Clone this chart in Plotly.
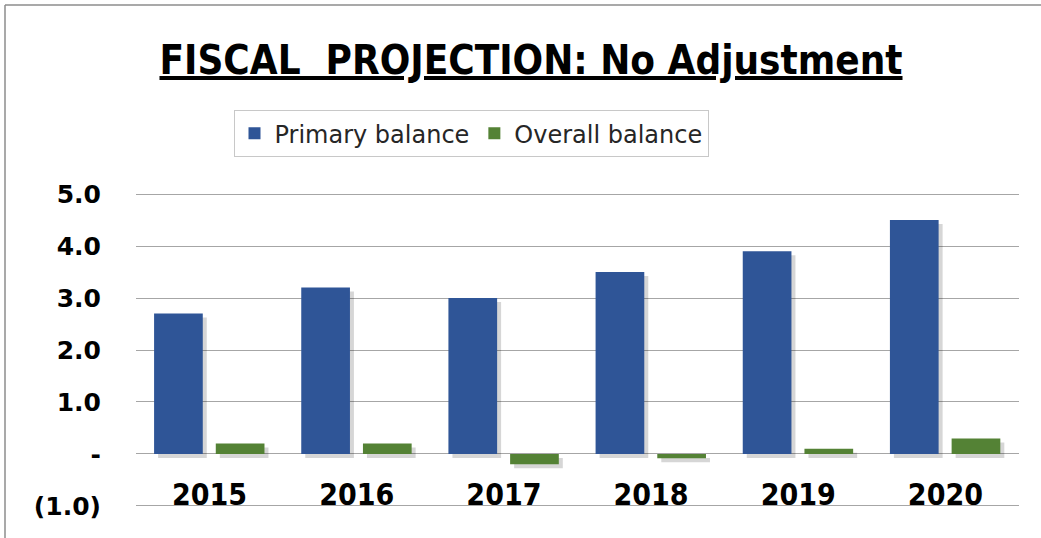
import plotly.graph_objects as go

years = ["2015", "2016", "2017", "2018", "2019", "2020"]
primary_balance = [2.7, 3.2, 3.0, 3.5, 3.9, 4.5]
overall_balance = [0.2, 0.2, -0.2, -0.08, 0.1, 0.3]
y_tickvals = [-1, 0, 1, 2, 3, 4, 5]
y_ticktext = ["(1.0)", "-", "1.0", "2.0", "3.0", "4.0", "5.0"]

W, H = 1041, 538
PXU = 52.0                     # pixels per unit
YMIN, YMAX = -1.02, 5.02
Y5_PX = 194                    # pixel row of 5.0 gridline
ML, MR = 136, 22
MT = Y5_PX - (YMAX - 5) * PXU
ph = (YMAX - YMIN) * PXU
MB = H - MT - ph
pw = W - ML - MR
CAT_PX = pw / len(years)

BAR_W = 48.7 / CAT_PX
OFF_P = -55.5 / CAT_PX
OFF_O = 6.2 / CAT_PX
SH_DX = 4 / CAT_PX
SH_DY = 4 / PXU
SHADOW = "rgba(0,0,0,0.16)"

fig = go.Figure()
# soft drop shadows
for vals, off in ((primary_balance, OFF_P), (overall_balance, OFF_O)):
    fig.add_trace(go.Bar(x=years, y=vals, base=-SH_DY, width=BAR_W, offset=off + SH_DX,
                         marker=dict(color=SHADOW, line=dict(width=0)),
                         showlegend=False, hoverinfo="skip"))
fig.add_trace(go.Bar(name="Primary balance", x=years, y=primary_balance,
                     width=BAR_W, offset=OFF_P,
                     marker=dict(color="#2F5597", line=dict(width=0))))
fig.add_trace(go.Bar(name="Overall balance", x=years, y=overall_balance,
                     width=BAR_W, offset=OFF_O,
                     marker=dict(color="#548235", line=dict(width=0))))

# outer border (top and left), in paper coords
fx0 = (5 - ML) / pw
fy1 = (H - MB - 5) / ph
fig.add_shape(type="line", xref="paper", yref="paper", x0=fx0, x1=(W - ML) / pw,
              y0=fy1, y1=fy1, line=dict(color="#8c8c8c", width=1.5))
fig.add_shape(type="line", xref="paper", yref="paper", x0=fx0, x1=fx0,
              y0=-MB / ph, y1=fy1, line=dict(color="#8c8c8c", width=1.5))

fig.update_layout(
    width=W, height=H,
    margin=dict(l=ML, r=MR, t=MT, b=MB, pad=0),
    paper_bgcolor="white", plot_bgcolor="white",
    barmode="overlay",
    title=dict(text="<b><u>FISCAL  PROJECTION: No Adjustment</u></b>",
               x=531 / W, xanchor="center", y=1 - 60 / H, yanchor="middle",
               font=dict(family="DejaVu Sans Condensed, DejaVu Sans", size=40, color="black")),
    legend=dict(orientation="h", x=(471 - ML) / pw, xanchor="center",
                y=(H - MB - 110) / ph, yanchor="top",
                bordercolor="#c8c8c8", borderwidth=1, bgcolor="white",
                font=dict(family="DejaVu Sans", size=24, color="#262626"),
                itemwidth=30, traceorder="normal"),
    font=dict(family="DejaVu Sans", color="black"),
    showlegend=True,
)
fig.update_yaxes(range=[YMIN, YMAX], tickvals=y_tickvals, ticktext=y_ticktext,
                 showgrid=True, gridcolor="#a6a6a6", gridwidth=1.3,
                 zeroline=True, zerolinecolor="#a6a6a6", zerolinewidth=1.3,
                 showline=False, ticks="", ticklabelstandoff=34,
                 tickfont=dict(family="DejaVu Sans", size=25, color="black", weight="bold"),
                 fixedrange=True)
fig.update_xaxes(anchor="free", position=(0 - YMIN) / (YMAX - YMIN),
                 showgrid=False, showline=False, zeroline=False, ticks="",
                 ticklabelstandoff=20,
                 tickfont=dict(family="DejaVu Sans Condensed, DejaVu Sans", size=30,
                               color="black", weight="bold"),
                 fixedrange=True)

fig.write_html("out.html", config={"displayModeBar": False},
               post_script="document.body.style.margin='0';")
